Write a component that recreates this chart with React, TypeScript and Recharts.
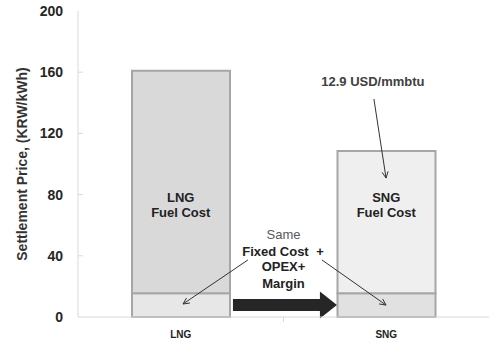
import React from 'react';
import {
  BarChart,
  Bar,
  Cell,
  XAxis,
  YAxis,
  ReferenceLine
} from 'recharts';

const categories = ['LNG', 'SNG'];
const fixedCost = [15.5, 15.5];
const fuelCost = [145.5, 93];
const yTicks = [0, 40, 80, 120, 160, 200];

const fixedFill = ['#e7e7e7', '#e1e1e1'];
const fuelFill = ['#d9d9d9', '#efefef'];

const data = categories.map((name, i) => ({
  name,
  fixed: fixedCost[i],
  fuel: fuelCost[i]
}));

const FONT = '"Liberation Sans", Arial, sans-serif';
const BAR_STROKE = '#a6a6a6';

// Notes are placed along a 0..2 run across the plot (LNG centre = 0.5,
// SNG centre = 1.5). The segment passed to ReferenceLine spans the two
// category centres, so x1/x2 give the pixel positions of 0.5 and 1.5.
const along = (p: any, u: number) => p.x1 + (u - 0.5) * (p.x2 - p.x1);

// thin line with an open V head at the end point
const thinArrow = (u1: number, u2: number) => (p: any) => {
  const x1 = along(p, u1);
  const x2 = along(p, u2);
  const { y1, y2 } = p;
  const a = Math.atan2(y2 - y1, x2 - x1);
  const len = 7;
  const spread = 0.45;
  const h1x = x2 - len * Math.cos(a - spread);
  const h1y = y2 - len * Math.sin(a - spread);
  const h2x = x2 - len * Math.cos(a + spread);
  const h2y = y2 - len * Math.sin(a + spread);
  return (
    <g stroke="#333" strokeWidth={1} fill="none">
      <line x1={x1} y1={y1} x2={x2} y2={y2} />
      <polyline points={`${h1x},${h1y} ${x2},${y2} ${h2x},${h2y}`} />
    </g>
  );
};

// block arrow pointing right
const blockArrow = (u1: number, u2: number) => (p: any) => {
  const x1 = along(p, u1);
  const x2 = along(p, u2);
  const y = p.y1;
  const head = 17;
  const bodyH = 6;
  const headH = 13.5;
  const xb = x2 - head;
  const pts = [
    [x1, y - bodyH],
    [xb, y - bodyH],
    [xb, y - headH],
    [x2, y],
    [xb, y + headH],
    [xb, y + bodyH],
    [x1, y + bodyH]
  ].map(q => q.join(',')).join(' ');
  return <polygon points={pts} fill="#262626" />;
};

const noteText = (u: number, text: string, opts: any = {}) => (p: any) => (
  <text
    x={along(p, u)}
    y={p.y1}
    textAnchor="middle"
    dominantBaseline="central"
    fontFamily={FONT}
    fontSize={opts.size ?? 13}
    fontWeight={opts.weight ?? 'bold'}
    fill={opts.color ?? '#222'}
  >
    {text}
  </text>
);

const span = (v1: number, v2: number = v1) => [
  { x: categories[0], y: v1 },
  { x: categories[1], y: v2 }
];

const YTick = (p: any) => {
  const { x, y, payload } = p;
  const v = payload.value;
  return (
    <g>
      <text
        x={x}
        y={y}
        textAnchor="end"
        dominantBaseline="central"
        fontFamily={FONT}
        fontSize={14}
        fontWeight="bold"
        fill="#262626"
      >
        {v}
      </text>
      {v !== 0 && v !== 200 && (
        <line x1={x + 15} y1={y} x2={x + 20} y2={y} stroke="#d9d9d9" />
      )}
    </g>
  );
};

const XTick = (p: any) => {
  const { x, y, payload } = p;
  return (
    <text
      x={x}
      y={y}
      textAnchor="middle"
      dominantBaseline="central"
      fontFamily={FONT}
      fontSize={10}
      fontWeight="bold"
      fill="#222"
    >
      {payload.value}
    </text>
  );
};

// separator tick under the axis, half way between the categories
const midTick = (p: any) => {
  const x = along(p, 1);
  return <line x1={x} y1={p.y1} x2={x} y2={p.y1 + 5} stroke="#d9d9d9" />;
};

export default function App() {
  const notes: [number[], any][] = [
    [[0], midTick],
    // labels inside the bars
    [[77.8], noteText(0.5, 'LNG')],
    [[68], noteText(0.5, 'Fuel Cost')],
    [[77.8], noteText(1.5, 'SNG')],
    [[68], noteText(1.5, 'Fuel Cost')],
    // shared fixed cost note
    [[53.6], noteText(1, 'Same', { weight: 'normal', color: '#595959' })],
    [[42.5], noteText(0.961, 'Fixed Cost')],
    [[42.5], noteText(1.178, '+')],
    [[32.7], noteText(1, 'OPEX+')],
    [[22.2], noteText(1, 'Margin')],
    [[37.3, 8.5], thinArrow(0.827, 0.511)],
    [[37.3, 7.8], thinArrow(1.187, 1.499)],
    // fuel price note
    [[153.6], noteText(1.435, '12.9 USD/mmbtu', { color: '#404040' })],
    [[142.5, 90.8], thinArrow(1.44, 1.499)],
    [[7.8], blockArrow(0.754, 1.26)]
  ];

  return (
    <div style={{ position: 'absolute', left: 0, top: 0, background: '#fff' }}>
      <BarChart
        width={489}
        height={345}
        data={data}
        margin={{ top: 11, right: 0, bottom: 0, left: 0 }}
        barSize={98}
      >
        <XAxis
          dataKey="name"
          height={28}
          axisLine={{ stroke: '#d9d9d9' }}
          tickLine={false}
          tickSize={0}
          tickMargin={17}
          tick={<XTick />}
        />
        <YAxis
          width={78}
          domain={[0, 200]}
          ticks={yTicks}
          interval={0}
          axisLine={{ stroke: '#d9d9d9' }}
          tickLine={false}
          tickSize={0}
          tickMargin={15}
          tick={<YTick />}
          label={{
            value: 'Settlement Price, (KRW/kWh)',
            angle: -90,
            position: 'insideLeft',
            dx: 17,
            dy: 0,
            style: {
              textAnchor: 'middle',
              fontFamily: FONT,
              fontSize: 14,
              fontWeight: 'bold',
              fill: '#333'
            }
          }}
        />
        <Bar dataKey="fixed" stackId="a" stroke={BAR_STROKE} strokeWidth={2} isAnimationActive={false}>
          {data.map((d, i) => (
            <Cell key={d.name} fill={fixedFill[i]} />
          ))}
        </Bar>
        <Bar dataKey="fuel" stackId="a" stroke={BAR_STROKE} strokeWidth={2} isAnimationActive={false}>
          {data.map((d, i) => (
            <Cell key={d.name} fill={fuelFill[i]} />
          ))}
        </Bar>

        {notes.map(([ys, shape], i) => (
          <ReferenceLine
            key={i}
            segment={span(ys[0], ys[1])}
            shape={shape}
            ifOverflow="visible"
          />
        ))}
      </BarChart>
    </div>
  );
}
